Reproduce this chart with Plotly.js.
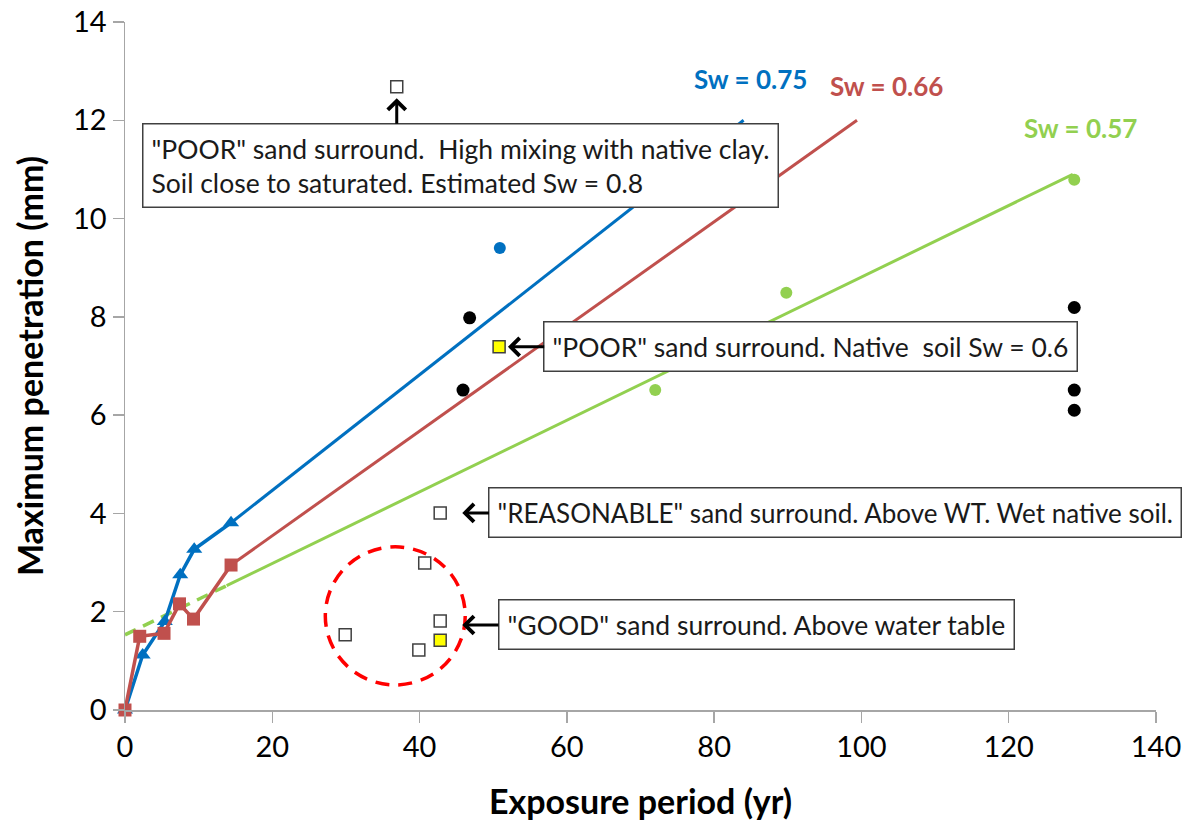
<!DOCTYPE html>
<html>
<head>
<meta charset="utf-8">
<script src="https://cdn.plot.ly/plotly-3.0.1.min.js"></script>
<style>
  html, body { margin: 0; padding: 0; background: #fff; }
  #chart { width: 1186px; height: 823px; }
</style>
</head>
<body>
<div id="chart"></div>
<script>
// Sw = 0.75 series (blue triangles) and its straight-line extension
const sw75X = [0, 2.4, 5.4, 7.5, 9.4, 14.4];
const sw75Y = [0, 1.12, 1.8, 2.75, 3.27, 3.81];
const sw75FitX = [14.4, 84];
const sw75FitY = [3.81, 12];

// Sw = 0.66 series (red squares) and its extension
const sw66X = [0, 2.0, 5.3, 7.4, 9.3, 14.4];
const sw66Y = [0, 1.5, 1.56, 2.16, 1.85, 2.95];
const sw66FitX = [14.4, 99.4];
const sw66FitY = [2.95, 12];

// Sw = 0.57 trend (dashed near the origin, solid beyond)
const sw57DashX = [0, 13.8];
const sw57DashY = [1.53, 2.53];
const sw57FitX = [13.8, 128.7];
const sw57FitY = [2.53, 10.9];

// Field measurements
const blueDotX = [50.9];
const blueDotY = [9.4];
const greenDotX = [72, 89.8, 128.9];
const greenDotY = [6.51, 8.49, 10.79];
const blackDotX = [46.8, 45.9, 128.9, 128.9, 128.9];
const blackDotY = [7.98, 6.51, 8.19, 6.51, 6.1];
const openSqX = [36.9, 42.8, 40.7, 42.8, 29.9, 39.9];
const openSqY = [12.68, 4.01, 2.99, 1.81, 1.53, 1.22];
const yellowSqX = [50.8, 42.8];
const yellowSqY = [7.39, 1.42];

// Tick values
const xTicks = [0, 20, 40, 60, 80, 100, 120, 140];
const yTicks = [0, 2, 4, 6, 8, 10, 12, 14];

const BLUE = '#0070C0', RED = '#C0504D', GREEN = '#92D050';
const FONT = 'Lato, "Open Sans", sans-serif';

const traces = [
  {x: sw57DashX, y: sw57DashY, mode: 'lines', line: {color: GREEN, width: 3.5, dash: '12px,8px'}},
  {x: sw57FitX, y: sw57FitY, mode: 'lines', line: {color: GREEN, width: 3}},
  {x: sw66FitX, y: sw66FitY, mode: 'lines', line: {color: RED, width: 3}},
  {x: sw75FitX, y: sw75FitY, mode: 'lines', line: {color: BLUE, width: 3}},
  {x: sw75X, y: sw75Y, mode: 'lines+markers', cliponaxis: false, line: {color: BLUE, width: 3.5},
   marker: {symbol: 'triangle-up', size: 14, color: BLUE}},
  {x: sw66X, y: sw66Y, mode: 'lines+markers', cliponaxis: false, line: {color: RED, width: 3.5},
   marker: {symbol: 'square', size: 13, color: RED}},
  {x: blueDotX, y: blueDotY, mode: 'markers', marker: {symbol: 'circle', size: 12, color: BLUE}},
  {x: greenDotX, y: greenDotY, mode: 'markers', marker: {symbol: 'circle', size: 12, color: GREEN}},
  {x: blackDotX, y: blackDotY, mode: 'markers', marker: {symbol: 'circle', size: 13, color: '#000'}},
  {x: openSqX, y: openSqY, mode: 'markers',
   marker: {symbol: 'square', size: 12, color: '#fff', line: {color: '#404040', width: 1.5}}},
  {x: yellowSqX, y: yellowSqY, mode: 'markers',
   marker: {symbol: 'square', size: 12, color: '#FFFF00', line: {color: '#404040', width: 1.5}}}
];

const boxStyle = {
  bgcolor: '#fff', bordercolor: '#404040', borderwidth: 1.5, borderpad: 8,
  font: {family: FONT, size: 26.5, color: '#1a1a1a'}, align: 'left'
};
const arrowStyle = {showarrow: true, arrowhead: 4, arrowsize: 1.15, arrowwidth: 3, arrowcolor: '#000'};

const annotations = [
  Object.assign({}, boxStyle, {
    xref: 'paper', yref: 'paper', x: 0.325, y: 0.791, xanchor: 'center', yanchor: 'middle',
    text: '"POOR" sand surround.  High mixing with native clay.<br>Soil close to saturated. Estimated Sw = 0.8',
    showarrow: false
  }),
  Object.assign({}, arrowStyle, {
    x: 36.9, y: 12.45, ax: 36.9, ay: 11.9, axref: 'x', ayref: 'y', text: ''
  }),
  Object.assign({}, boxStyle, arrowStyle, {
    x: 52.0, y: 7.39, ax: 303, ay: 0,
    text: '"POOR" sand surround. Native  soil Sw = 0.6'
  }),
  Object.assign({}, boxStyle, arrowStyle, {
    x: 45.8, y: 4.01, ax: 373, ay: 0,
    font: {family: FONT, size: 26, color: '#1a1a1a'},
    text: '"REASONABLE" sand surround. Above WT. Wet native soil.'
  }),
  Object.assign({}, boxStyle, arrowStyle, {
    x: 45.8, y: 1.73, ax: 294, ay: 0,
    text: '"GOOD" sand surround. Above water table'
  }),
  {x: 85.0, y: 12.84, text: '<b>Sw = 0.75</b>', showarrow: false,
   font: {family: FONT, size: 26, color: BLUE}},
  {x: 103.4, y: 12.7, text: '<b>Sw = 0.66</b>', showarrow: false,
   font: {family: FONT, size: 26, color: RED}},
  {x: 129.7, y: 11.84, text: '<b>Sw = 0.57</b>', showarrow: false,
   font: {family: FONT, size: 26, color: GREEN}}
];

const axisCommon = {
  showgrid: false, zeroline: false, showline: true, linecolor: '#a6a6a6', linewidth: 1.5,
  ticks: 'outside', ticklen: 11, tickwidth: 1.5, tickcolor: '#a6a6a6',
  tickfont: {family: FONT, size: 29, color: '#000'}, fixedrange: true
};

const layout = {
  width: 1186, height: 823,
  margin: {l: 125, r: 30, t: 22, b: 113},
  paper_bgcolor: '#fff', plot_bgcolor: '#fff',
  showlegend: false,
  xaxis: Object.assign({}, axisCommon, {
    range: [0, 140], tickvals: xTicks, ticktext: xTicks.map(String),
    title: {text: '<b>Exposure period (yr)</b>', font: {family: FONT, size: 34, color: '#000'}, standoff: 28}
  }),
  yaxis: Object.assign({}, axisCommon, {
    range: [0, 14], tickvals: yTicks, ticktext: yTicks.map(String),
    title: {text: '<b>Maximum penetration (mm)</b>', font: {family: FONT, size: 34, color: '#000'}, standoff: 19}
  }),
  shapes: [{
    type: 'circle', xref: 'x', yref: 'y', x0: 27.2, x1: 46.2, y0: 0.51, y1: 3.32,
    line: {color: '#FF0000', width: 3.5, dash: '14px,9px'}
  }],
  annotations: annotations
};

Plotly.newPlot('chart', traces, layout, {displayModeBar: false, staticPlot: true});
</script>
</body>
</html>
